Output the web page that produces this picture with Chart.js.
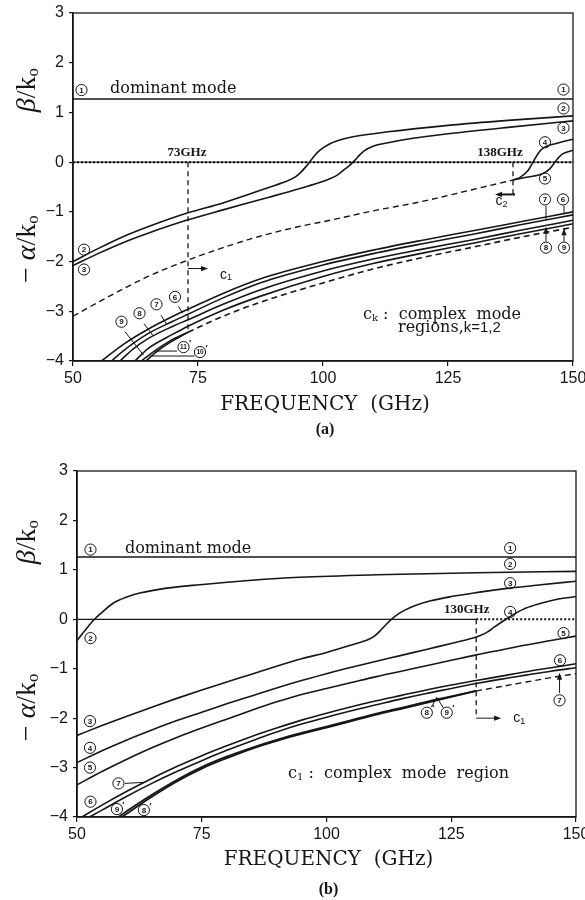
<!DOCTYPE html>
<html>
<head>
<meta charset="utf-8">
<script src="https://cdn.jsdelivr.net/npm/chart.js@4.4.1/dist/chart.umd.min.js"></script>
<style>
  body { margin: 0; background: #fff; }
  .panel { position: absolute; left: 0; width: 585px; }
  #wrapA { top: 0; height: 440px; }
  #wrapB { top: 440px; height: 460px; }
</style>
</head>
<body>
<div class="panel" id="wrapA"><canvas id="chartA" width="585" height="440"></canvas></div>
<div class="panel" id="wrapB"><canvas id="chartB" width="585" height="460"></canvas></div>
<script>
// axis ticks shared by both panels
const freqTicks = [50, 75, 100, 125, 150];
const valueTicks = [-4, -3, -2, -1, 0, 1, 2, 3];

// panel (a): [frequency GHz, beta/k0 or -alpha/k0]
const a1 = [[50, 1.27], [150, 1.27]];
const a2 = [[50,-2.0],[55,-1.74],[60,-1.5],[65,-1.3],[73,-1.02],[80,-0.82],[89.4,-0.5],[92,-0.41],[94.4,-0.3],[95.5,-0.21],[96.5,-0.1],[97.3,0],[98.2,0.12],[99.4,0.24],[101.4,0.37],[103.5,0.45],[106,0.51],[113,0.61],[125,0.74],[137,0.84],[150,0.93]];
const a3 = [[50,-2.08],[55,-1.84],[60,-1.62],[65,-1.43],[73,-1.16],[80,-0.96],[89.4,-0.7],[95.4,-0.53],[99,-0.42],[101.5,-0.33],[103,-0.25],[104.5,-0.13],[105.5,-0.05],[106.4,0.04],[107.3,0.14],[108.3,0.23],[110,0.32],[113,0.39],[118,0.48],[125,0.57],[137,0.7],[150,0.83]];
const a4 = [[138,-0.36],[139.5,-0.3],[141,-0.17],[142,0],[143,0.17],[144,0.28],[146.8,0.38],[150,0.46]];
const a5 = [[138,-0.36],[141,-0.3],[144,-0.23],[145.4,-0.13],[146.4,0],[147.2,0.1],[148,0.17],[150,0.24]];
const a6 = [[55.7,-4],[60,-3.67],[65,-3.36],[70,-3.1],[73,-2.96],[80,-2.64],[87.4,-2.35],[100,-2.0],[110,-1.77],[119.4,-1.58],[130,-1.38],[140,-1.19],[150,-1.0]];
const a7 = [[57.7,-4],[60,-3.8],[65,-3.45],[70,-3.2],[73,-3.06],[80,-2.73],[87.4,-2.43],[100,-2.07],[110,-1.84],[119.4,-1.65],[130,-1.45],[140,-1.25],[150,-1.06]];
const a8 = [[59.4,-4],[62,-3.76],[65,-3.55],[70,-3.3],[73,-3.17],[80,-2.86],[87.4,-2.57],[100,-2.19],[110,-1.95],[119.4,-1.76],[130,-1.56],[140,-1.36],[150,-1.17]];
const a9 = [[62.4,-4],[65,-3.75],[70,-3.46],[73,-3.3],[80,-2.98],[87.4,-2.7],[100,-2.3],[110,-2.04],[119.4,-1.84],[130,-1.63],[140,-1.43],[150,-1.24]];
const a10 = [[64.6,-4],[67,-3.79],[70,-3.59],[73,-3.42]];
const a11 = [[63.7,-4],[66,-3.82],[70,-3.56],[73,-3.42]];
const aComplexLow = [[73,-3.42],[80,-3.1],[87.4,-2.82],[100,-2.43],[110,-2.15],[119.4,-1.93],[130,-1.71],[140,-1.5],[150,-1.31]];
const aComplexUp = [[50,-3.1],[55,-2.82],[60,-2.55],[65,-2.3],[73,-1.97],[80,-1.72],[87.4,-1.49],[95,-1.3],[101.4,-1.17],[110,-0.98],[119.4,-0.8],[130,-0.55],[138,-0.36]];
const aCut73 = [[73,0],[73,-3.42]];
const aCut138 = [[138,0],[138,-0.65]];
const aZero = [[50,0],[150,0]];

// panel (b)
const b1 = [[50, 1.26], [150, 1.26]];
const b2 = [[50,-0.43],[51.8,-0.2],[53.5,0],[55,0.14],[57.3,0.33],[60,0.45],[62.6,0.53],[68,0.63],[74.6,0.7],[85,0.79],[94.7,0.85],[110,0.9],[130,0.94],[150,0.97]];
const b3 = [[50,-2.35],[55,-2.15],[60,-1.96],[65,-1.78],[70,-1.6],[75,-1.43],[80,-1.27],[85,-1.11],[90,-0.95],[95,-0.8],[100,-0.67],[104,-0.55],[107,-0.46],[108.6,-0.4],[109.6,-0.34],[110.6,-0.25],[111.8,-0.12],[113,0],[114.4,0.11],[116,0.2],[117.8,0.28],[120.7,0.37],[125,0.46],[130,0.54],[136.6,0.63],[143,0.7],[150,0.77]];
const b4 = [[50,-2.9],[55,-2.66],[60,-2.44],[65,-2.24],[70,-2.05],[75,-1.88],[80,-1.71],[85,-1.55],[90,-1.39],[95,-1.24],[100.7,-1.08],[105,-0.97],[110,-0.85],[115,-0.73],[120,-0.61],[125,-0.49],[127.5,-0.43],[129.4,-0.38],[130.8,-0.33],[132.2,-0.26],[133.6,-0.16],[135.2,-0.05],[136.6,0.04],[138.2,0.14],[140,0.23],[142.8,0.32],[146,0.4],[150,0.46]];
const b5 = [[50,-3.35],[55,-3.08],[60,-2.83],[65,-2.6],[70,-2.39],[75,-2.2],[80,-2.02],[85,-1.84],[90,-1.67],[95,-1.52],[100,-1.4],[105,-1.28],[110,-1.16],[115,-1.05],[120,-0.94],[125,-0.83],[130,-0.72],[135,-0.62],[140,-0.52],[145,-0.43],[150,-0.34]];
const b6 = [[51,-4],[55,-3.76],[60,-3.48],[65,-3.22],[70,-2.98],[75,-2.76],[80,-2.56],[85,-2.37],[90,-2.2],[95,-2.04],[100,-1.9],[105,-1.77],[110,-1.65],[115,-1.54],[120,-1.43],[125,-1.33],[130,-1.24],[135,-1.15],[140,-1.06],[145,-0.98],[150,-0.9]];
const b7 = [[52.5,-4],[55,-3.86],[60,-3.58],[65,-3.32],[70,-3.08],[75,-2.86],[80,-2.65],[85,-2.46],[90,-2.28],[95,-2.12],[100,-1.98],[105,-1.85],[110,-1.73],[115,-1.61],[120,-1.5],[125,-1.4],[130,-1.3],[135,-1.21],[140,-1.13],[145,-1.05],[150,-0.98]];
const b8 = [[58.3,-4],[60,-3.88],[65,-3.55],[70,-3.25],[75,-2.99],[80,-2.78],[85,-2.6],[90.7,-2.42],[95,-2.3],[100,-2.17],[105,-2.04],[110,-1.91],[115,-1.79],[120,-1.67],[125,-1.56],[130,-1.45]];
const b9 = [[59,-4],[60,-3.93],[65,-3.59],[70,-3.28],[75,-3.02],[80,-2.81],[85,-2.62],[90.7,-2.44],[95,-2.32],[100,-2.19],[105,-2.06],[110,-1.93],[115,-1.81],[120,-1.69],[125,-1.57],[130,-1.45]];
const bComplex = [[130,-1.45],[135,-1.36],[140,-1.27],[145,-1.18],[150,-1.1]];
const bCut130 = [[130,0],[130,-2.0]];
const bZero = [[50,0],[130,0]];
const bZeroDot = [[130,0],[150,0]];

const INK = '#161616';
const SERIF = '"DejaVu Serif", serif';
const TIMES = '"Liberation Serif", serif';
const SANS = '"Liberation Sans", Arial, sans-serif';

function pts(arr) {
  return arr.map(([x, y]) => ({ x, y }));
}

// smooth curve through the read-off points
function curve(arr, dash, width) {
  return {
    data: pts(arr), borderColor: INK, borderWidth: width || 1.6,
    borderDash: dash || [], pointRadius: 0, fill: false,
    cubicInterpolationMode: 'monotone'
  };
}

// straight segment (vertical cut lines, zero line)
function straight(arr, dash, width) {
  return {
    data: pts(arr), borderColor: INK, borderWidth: width || 1.2,
    borderDash: dash || [], pointRadius: 0, fill: false, tension: 0
  };
}

function circled(ctx, x, y, label, prime) {
  ctx.beginPath();
  ctx.arc(x, y, 5.6, 0, Math.PI * 2);
  ctx.lineWidth = 1;
  ctx.strokeStyle = INK;
  ctx.stroke();
  ctx.fillStyle = INK;
  ctx.font = `bold ${label.length > 1 ? 6.5 : 8}px ${SANS}`;
  ctx.textAlign = 'center';
  ctx.textBaseline = 'middle';
  ctx.fillText(label, x, y + 0.5);
  if (prime) {
    ctx.font = `bold 9px ${SANS}`;
    ctx.fillText('\u2032', x + 6.5, y - 4);
  }
}

function drawParts(ctx, x, y, parts, align) {
  let total = 0;
  parts.forEach(p => { ctx.font = p[1]; total += ctx.measureText(p[0]).width; });
  let cx = align === 'center' ? x - total / 2 : align === 'right' ? x - total : x;
  ctx.textAlign = 'left';
  ctx.textBaseline = 'middle';
  ctx.fillStyle = INK;
  parts.forEach(p => {
    ctx.font = p[1];
    ctx.fillText(p[0], cx, y + (p[2] || 0));
    cx += ctx.measureText(p[0]).width;
  });
}

function arrowLine(ctx, x1, y1, x2, y2, width) {
  const ang = Math.atan2(y2 - y1, x2 - x1);
  ctx.beginPath();
  ctx.moveTo(x1, y1);
  ctx.lineTo(x2 - 5 * Math.cos(ang), y2 - 5 * Math.sin(ang));
  ctx.lineWidth = width || 1;
  ctx.strokeStyle = INK;
  ctx.setLineDash([]);
  ctx.stroke();
  ctx.beginPath();
  ctx.moveTo(x2, y2);
  ctx.lineTo(x2 - 7 * Math.cos(ang) + 2.6 * Math.sin(ang), y2 - 7 * Math.sin(ang) - 2.6 * Math.cos(ang));
  ctx.lineTo(x2 - 7 * Math.cos(ang) - 2.6 * Math.sin(ang), y2 - 7 * Math.sin(ang) + 2.6 * Math.cos(ang));
  ctx.closePath();
  ctx.fillStyle = INK;
  ctx.fill();
}

// labels, leaders, frame and axis titles
function annotator(items, titles) {
  return {
    id: 'annot',
    afterDraw(chart) {
      const ctx = chart.ctx;
      const sx = chart.scales.x, sy = chart.scales.y;
      const X = f => sx.getPixelForValue(f);
      const Y = v => sy.getPixelForValue(v);
      const area = chart.chartArea;
      ctx.save();

      // box round the plot
      ctx.strokeStyle = INK;
      ctx.lineWidth = 1.3;
      ctx.setLineDash([]);
      ctx.strokeRect(area.left, area.top, area.right - area.left, area.bottom - area.top);

      items.forEach(it => {
        const kind = it[0];
        if (kind === 'circ') {
          circled(ctx, X(it[1]), Y(it[2]), it[3], it[4]);
        } else if (kind === 'text') {
          drawParts(ctx, X(it[1]), Y(it[2]), it[3], it[4]);
        } else if (kind === 'line') {
          ctx.beginPath();
          ctx.moveTo(X(it[1]), Y(it[2]));
          ctx.lineTo(X(it[3]), Y(it[4]));
          ctx.lineWidth = 1;
          ctx.strokeStyle = INK;
          ctx.stroke();
        } else if (kind === 'arrow') {
          arrowLine(ctx, X(it[1]), Y(it[2]), X(it[3]), Y(it[4]), it[5]);
        }
      });

      // y titles, rotated
      const yTitle = (cy, parts) => {
        ctx.save();
        ctx.translate(area.left + titles.yTitleDx, cy);
        ctx.rotate(-Math.PI / 2);
        drawParts(ctx, 0, 0, parts, 'center');
        ctx.restore();
      };
      yTitle(Y(titles.betaAt), [
        ['\u03B2', `italic 28px ${TIMES}`], ['/', `28px ${TIMES}`],
        ['k', `28px ${TIMES}`], ['o', `17px ${TIMES}`, 6]
      ]);
      yTitle(Y(titles.alphaAt), [
        ['\u2212 ', `28px ${TIMES}`], ['\u03B1', `italic 28px ${TIMES}`], ['/', `28px ${TIMES}`],
        ['k', `28px ${TIMES}`], ['o', `17px ${TIMES}`, 6]
      ]);

      const midX = (area.left + area.right) / 2 + 2;
      drawParts(ctx, midX, area.bottom + titles.xTitleDy, [['FREQUENCY  (GHz)', `20px ${SERIF}`]], 'center');
      drawParts(ctx, midX, area.bottom + titles.panelDy, [[titles.panel, `bold 16px ${TIMES}`]], 'center');
      ctx.restore();
    }
  };
}

function scaleOpts(yWidth, xHeight) {
  const tickFont = { family: SANS, size: 16 };
  return {
    x: {
      type: 'linear', min: 50, max: 150,
      afterBuildTicks: s => { s.ticks = freqTicks.map(v => ({ value: v })); },
      afterFit: s => { s.height = xHeight; s.paddingLeft = 0; s.paddingRight = 0; },
      ticks: { font: tickFont, color: INK, padding: 3, maxRotation: 0, autoSkip: false },
      grid: { drawOnChartArea: false, tickLength: 5, color: INK, lineWidth: 1.2 },
      border: { color: INK, width: 1.5 }
    },
    y: {
      type: 'linear', min: -4, max: 3,
      afterBuildTicks: s => { s.ticks = valueTicks.map(v => ({ value: v })); },
      afterFit: s => { s.width = yWidth; s.paddingTop = 0; s.paddingBottom = 0; },
      ticks: {
        font: tickFont, color: INK, padding: 5, autoSkip: false,
        callback: v => (v < 0 ? '\u2212' + Math.abs(v) : String(v))
      },
      grid: { drawOnChartArea: false, tickLength: 4, color: INK, lineWidth: 1.2 },
      border: { color: INK, width: 1.5 }
    }
  };
}

function baseOptions(padding, yWidth, xHeight) {
  return {
    responsive: false,
    devicePixelRatio: 1,
    animation: false,
    layout: { padding },
    plugins: { legend: { display: false }, tooltip: { enabled: false } },
    scales: scaleOpts(yWidth, xHeight)
  };
}

const T16 = `16px ${SERIF}`;
const SUB = `10px ${SERIF}`;
const BOLDG = `bold 13px ${TIMES}`;
const C14 = `14px ${SANS}`;
const C9 = `9px ${SANS}`;

const itemsA = [
  ['circ', 51.7, 1.45, '1'],
  ['text', 57.4, 1.47, [['dominant mode', T16]], 'left'],
  ['circ', 148.1, 1.46, '1'], ['circ', 148.1, 1.08, '2'], ['circ', 148.1, 0.69, '3'],
  ['circ', 144.4, 0.40, '4'], ['circ', 144.4, -0.33, '5'],
  ['circ', 144.4, -0.75, '7'], ['circ', 148.0, -0.75, '6'],
  ['line', 144.6, -0.88, 144.6, -1.17], ['line', 148.2, -0.87, 148.2, -1.03],
  ['arrow', 144.6, -1.6, 144.6, -1.3], ['arrow', 148.2, -1.6, 148.2, -1.33],
  ['circ', 144.6, -1.72, '8'], ['circ', 148.2, -1.72, '9'],
  ['text', 135.4, 0.2, [['138GHz', BOLDG]], 'center'],
  ['arrow', 138.4, -0.65, 134.4, -0.65, 2],
  ['text', 135.7, -0.79, [['c', C14], ['2', C9, 3]], 'center'],
  ['text', 72.8, 0.2, [['73GHz', BOLDG]], 'center'],
  ['arrow', 73, -2.14, 77, -2.14],
  ['text', 79.4, -2.27, [['c', C14], ['1', C9, 3]], 'left'],
  ['circ', 52.2, -1.76, '2'], ['circ', 52.2, -2.16, '3'],
  ['circ', 70.4, -2.71, '6'], ['line', 71.1, -2.9, 71.9, -3.04],
  ['circ', 66.7, -2.86, '7'], ['line', 67.6, -3.08, 68.7, -3.26],
  ['circ', 63.3, -3.04, '8'], ['line', 64.2, -3.25, 66.1, -3.5],
  ['circ', 59.7, -3.21, '9'], ['line', 60.4, -3.41, 64.1, -3.88],
  ['circ', 72.1, -3.72, '11', true], ['line', 66.4, -3.8, 70.8, -3.8],
  ['circ', 75.4, -3.82, '10', true], ['line', 65.4, -3.9, 74.3, -3.9],
  ['text', 108, -3.08, [['c', T16], ['k', SUB, 3], [' :  complex  mode', T16]], 'left'],
  ['text', 115, -3.34, [['regions,', T16], ['k=1,2', `15px ${SANS}`]], 'left']
];

const itemsB = [
  ['circ', 52.7, 1.41, '1'],
  ['text', 59.6, 1.42, [['dominant mode', T16]], 'left'],
  ['circ', 136.8, 1.44, '1'], ['circ', 136.8, 1.12, '2'], ['circ', 136.8, 0.73, '3'],
  ['text', 128.1, 0.2, [['130GHz', BOLDG]], 'center'],
  ['circ', 136.8, 0.15, '4'],
  ['circ', 147.5, -0.28, '5'], ['circ', 146.8, -0.83, '6'],
  ['circ', 146.7, -1.64, '7'], ['arrow', 146.7, -1.49, 146.7, -1.08],
  ['circ', 120.1, -1.89, '8', true], ['circ', 124.1, -1.89, '9', true],
  ['line', 121, -1.78, 122.1, -1.58], ['line', 123.4, -1.79, 122.1, -1.58],
  ['arrow', 130, -2.0, 135, -2.0],
  ['text', 137.4, -2.0, [['c', C14], ['1', C9, 3]], 'left'],
  ['text', 92.3, -3.13, [['c', T16], ['1', SUB, 3], [' :  complex  mode  region', T16]], 'left'],
  ['circ', 52.7, -0.38, '2'],
  ['circ', 52.6, -2.06, '3'], ['circ', 52.6, -2.6, '4'], ['circ', 52.6, -3.0, '5'],
  ['circ', 52.7, -3.69, '6'],
  ['circ', 58.3, -3.32, '7'], ['line', 59.6, -3.32, 63.3, -3.3],
  ['circ', 58, -3.84, '9', true], ['circ', 63.4, -3.86, '8', true],
  ['line', 63.2, -3.72, 64.2, -3.6]
];

const DASH = [6, 4];
const DOT = [2, 2];

new Chart(document.getElementById('chartA'), {
  type: 'line',
  data: {
    datasets: [
      straight(aZero, [], 1),
      straight(aZero, DOT, 2),
      curve(a1), curve(a2), curve(a3), curve(a4), curve(a5),
      curve(a6), curve(a7), curve(a8), curve(a9), curve(a10), curve(a11),
      curve(aComplexUp, DASH, 1.4), curve(aComplexLow, DASH, 1.6),
      straight(aCut73, [5, 4], 1.3), straight(aCut138, [5, 4], 1.3)
    ]
  },
  options: baseOptions({ left: 0, right: 12, top: 13, bottom: 0 }, 73, 79),
  plugins: [annotator(itemsA, { betaAt: 1.45, alphaAt: -1.75, yTitleDx: -45, xTitleDy: 44, panelDy: 69, panel: '(a)' })]
});

new Chart(document.getElementById('chartB'), {
  type: 'line',
  data: {
    datasets: [
      straight(bZero, [], 1.2),
      straight(bZeroDot, DOT, 2),
      curve(b1), curve(b2), curve(b3), curve(b4), curve(b5),
      curve(b6), curve(b7), curve(b8, [], 1.8), curve(b9, [], 1.8),
      curve(bComplex, DASH, 1.4),
      straight(bCut130, [5, 4], 1.3)
    ]
  },
  options: baseOptions({ left: 0, right: 9, top: 31, bottom: 0 }, 77, 83),
  plugins: [annotator(itemsB, { betaAt: 1.56, alphaAt: -1.78, yTitleDx: -49, xTitleDy: 43, panelDy: 73, panel: '(b)' })]
});
</script>
</body>
</html>
